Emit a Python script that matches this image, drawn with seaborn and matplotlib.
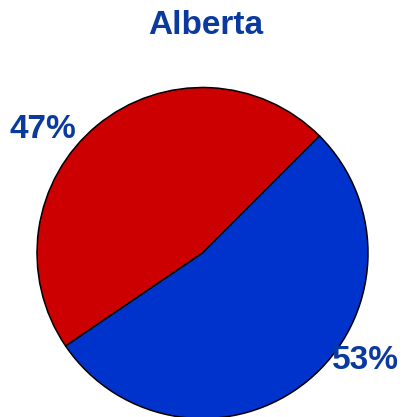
import matplotlib
matplotlib.use("Agg")
import matplotlib.pyplot as plt
import seaborn as sns

province = "Alberta"
shares = [47, 53]
slice_colors = ["#CC0000", "#0033CC"]
pct_labels = ["47%", "53%"]

sns.set_theme(style="white")
plt.rcParams['font.family'] = ['Liberation Sans', 'DejaVu Sans']

text_blue = "#0B3A9E"

fig = plt.figure(figsize=(4.04, 4.17), dpi=100)
# axes placed so the pie sits where it does in the original (bottom slightly cut)
ax = fig.add_axes([37 / 404, -1.5 / 417, 331 / 404, 331 / 417])
wedges, _ = ax.pie(shares, colors=sns.color_palette(slice_colors), startangle=45,
                   counterclock=True,
                   wedgeprops={'edgecolor': 'black', 'linewidth': 1.1})
ax.set_xlim(-1, 1)
ax.set_ylim(-1, 1)
ax.set_aspect('equal')
ax.axis('off')

# percent labels sit outside the pie
label_pos = [(-0.966, 0.746), (0.982, -0.647)]
for (x, y), lab in zip(label_pos, pct_labels):
    ax.text(x, y, lab, ha='center', va='center', fontsize=24, fontweight='bold',
            color=text_blue, clip_on=False)

fig.text(205.5 / 404, 1 - 34 / 417, province, ha='center', va='baseline',
         fontsize=24, fontweight='bold', color=text_blue)

fig.savefig("out.png", dpi=100)
